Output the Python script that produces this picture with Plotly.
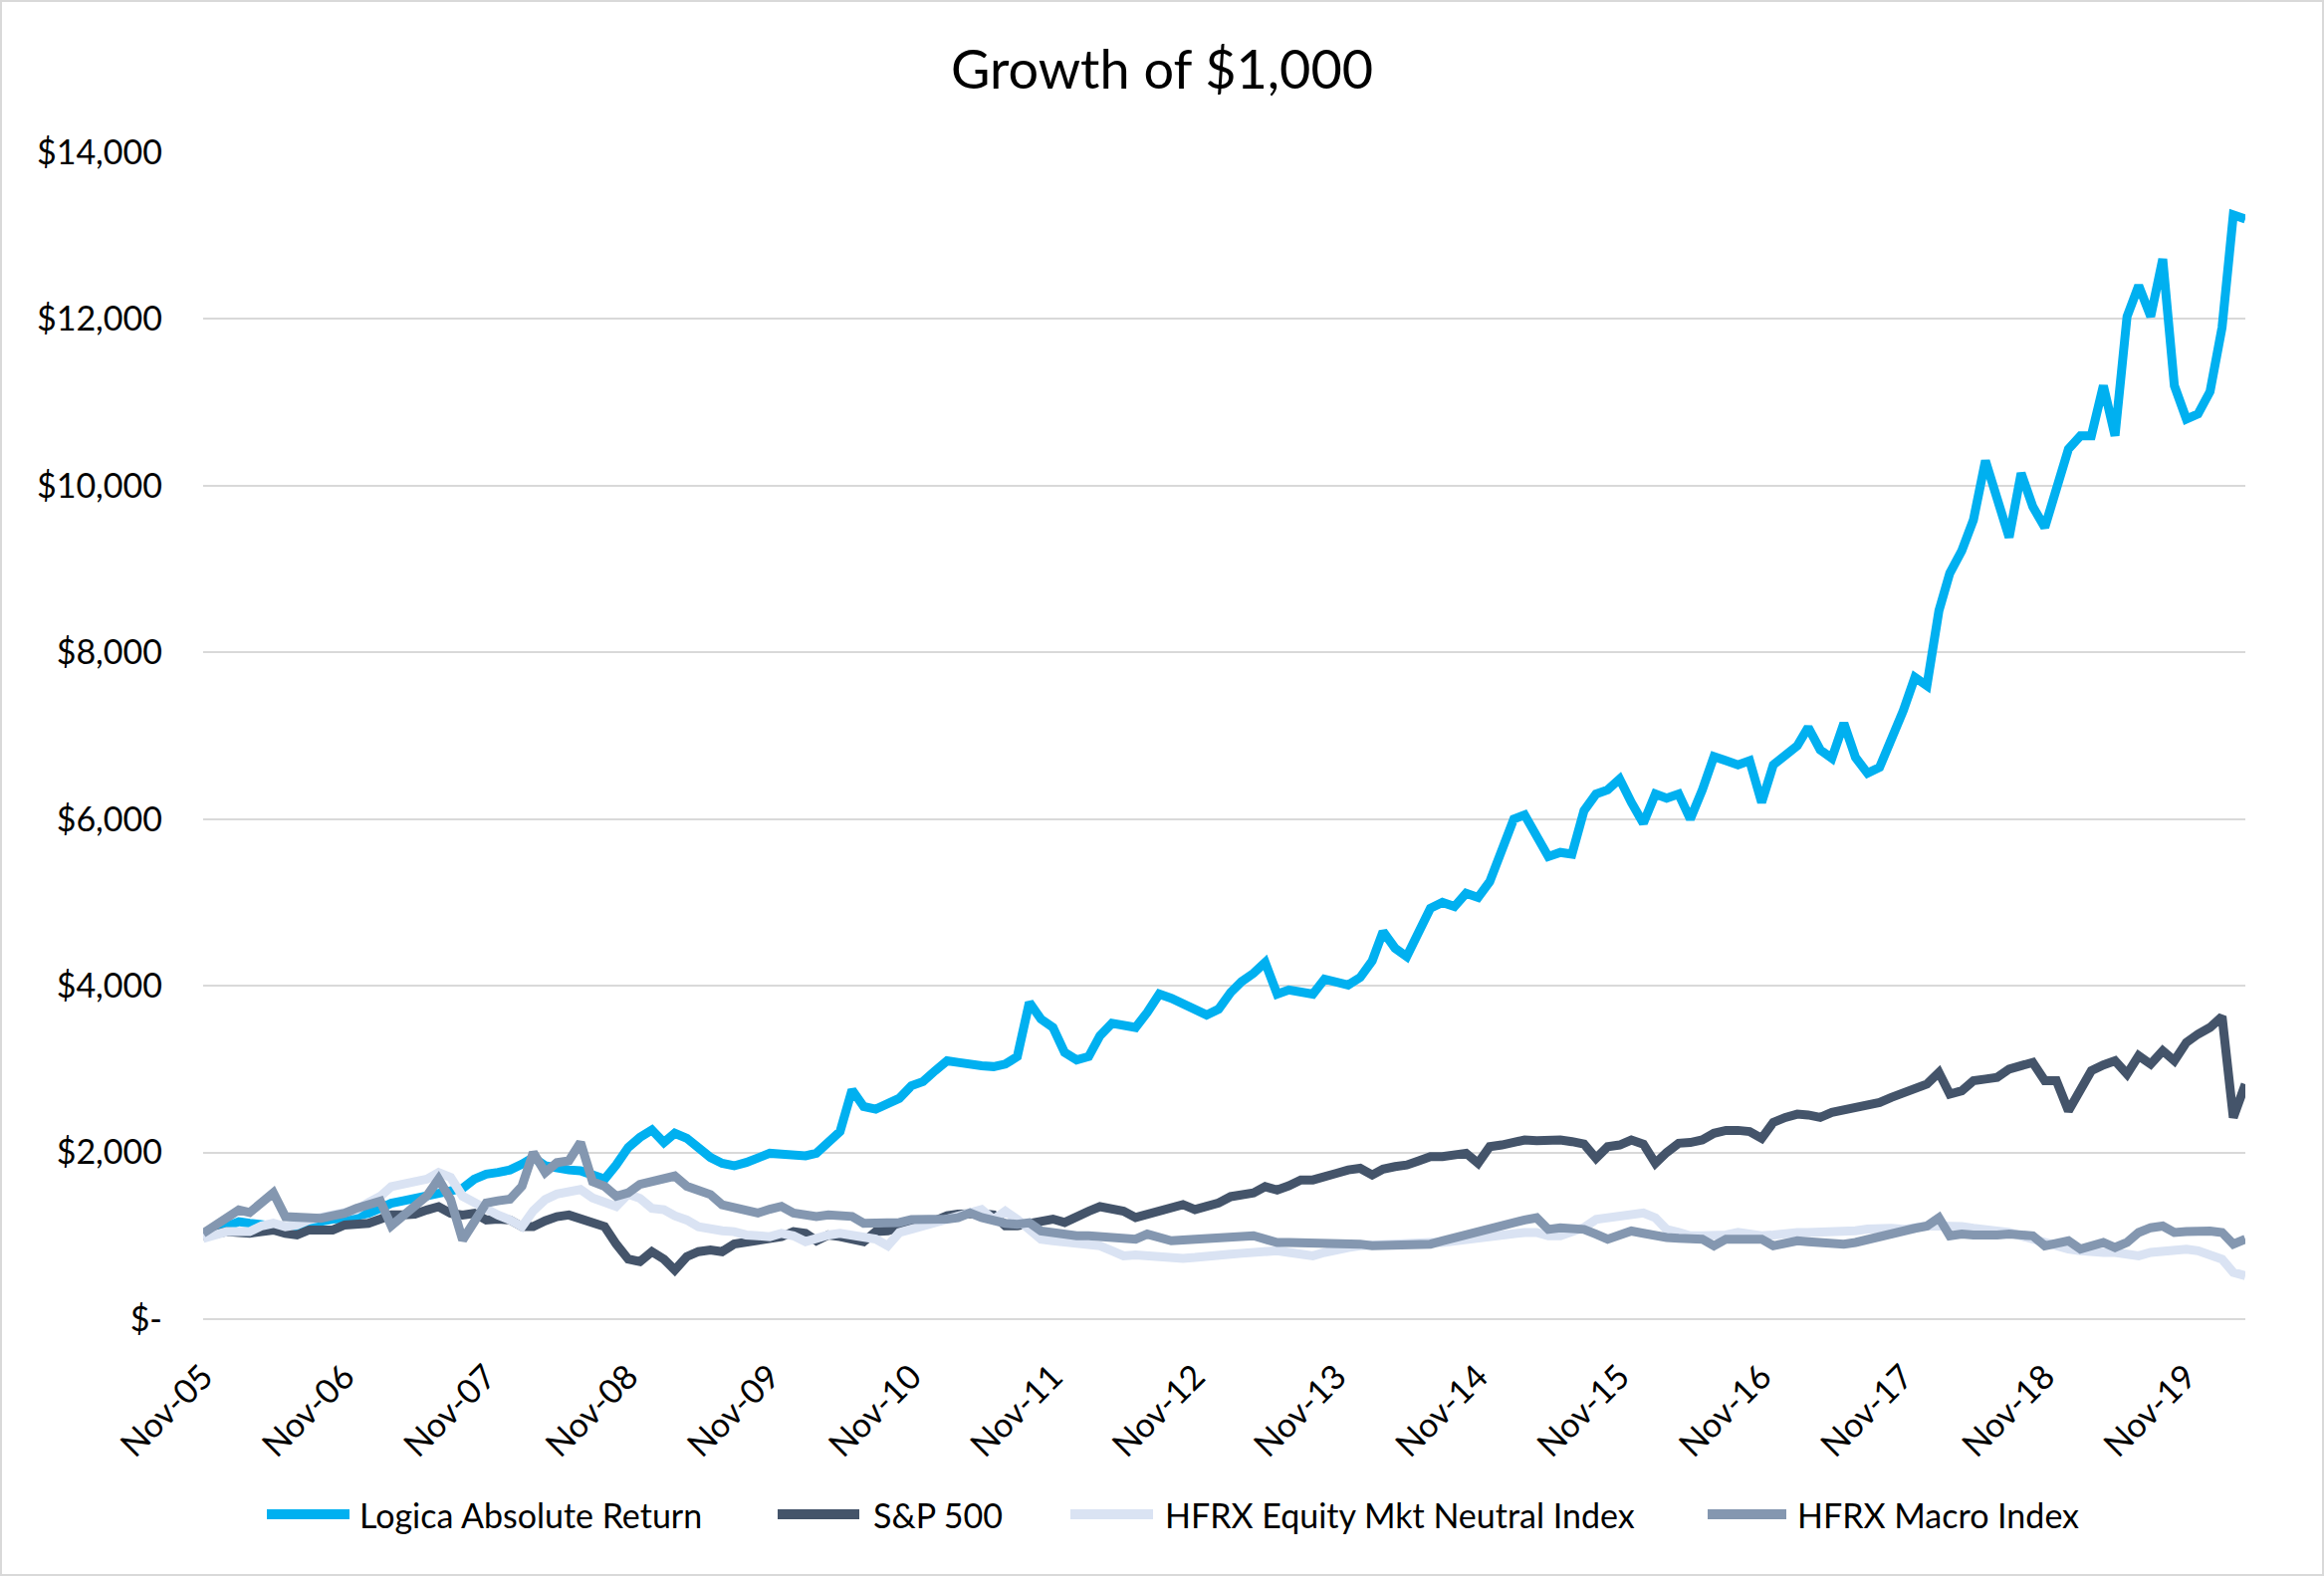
import pandas as pd
import plotly.graph_objects as go

# ---------------- data ----------------
dates = pd.date_range("2005-11-01", "2020-04-01", freq="MS")  # monthly, Nov-05 .. Apr-20

series_names = ["Logica Absolute Return", "S&P 500",
                "HFRX Equity Mkt Neutral Index", "HFRX Macro Index"]

logica = [
    1000, 1050, 1120, 1170, 1150, 1130, 1120, 1100, 1120, 1150, 1180, 1200,
    1210, 1240, 1270, 1330, 1390, 1420, 1450, 1480, 1500, 1540, 1570, 1680,
    1740, 1760, 1790, 1860, 1940, 1840, 1810, 1790, 1780, 1720, 1680, 1850,
    2060, 2180, 2270, 2120, 2230, 2170, 2060, 1940, 1870, 1840, 1880, 1930,
    1990, 1980, 1970, 1960, 1990, 2140, 2250, 2750, 2550, 2520, 2580, 2650,
    2800, 2850, 2980, 3100, 3080, 3050, 3040, 3030, 3060, 3150, 3800, 3600,
    3500, 3200, 3110, 3150, 3400, 3550, 3520, 3500, 3680, 3900, 3850, 3780,
    3720, 3650, 3720, 3920, 4050, 4150, 4280, 3900, 3950, 3930, 3900, 4080,
    4050, 4010, 4100, 4300, 4650, 4450, 4350, 4650, 4930, 5000, 4950, 5110,
    5060, 5250, 5600, 6000, 6050, 5800, 5550, 5600, 5580, 6100, 6300, 6350,
    6480, 6200, 5950, 6300, 6250, 6300, 6000, 6350, 6750, 6700, 6650, 6700,
    6200, 6650, 6780, 6880, 7100, 6830, 6730, 7150, 6740, 6550, 6620, 6950,
    7300, 7700, 7600, 8500, 8950, 9220, 9590, 10300, 9850, 9380, 10150, 9750,
    9500, 10000, 10440, 10600, 10600, 11200, 10600, 12030, 12400, 12030, 12720, 11200,
    10800, 10860, 11130, 11900, 13250, 13200,
]

sp500 = [
    990, 1020, 1050, 1040, 1030, 1050, 1070, 1030, 1010, 1070, 1070, 1070,
    1130, 1150, 1150, 1200, 1250, 1250, 1260, 1310, 1350, 1270, 1250, 1270,
    1190, 1200, 1190, 1110, 1110, 1180, 1230, 1250, 1200, 1150, 1110, 900,
    720, 690, 810, 720, 590, 750, 810, 830, 810, 900, 920, 930,
    960, 990, 1050, 1030, 940, 1010, 990, 970, 930, 1050, 1060, 1100,
    1140, 1160, 1180, 1240, 1260, 1275, 1265, 1250, 1120, 1120, 1150, 1190,
    1200, 1160, 1240, 1295, 1350, 1320, 1295, 1220, 1260, 1315, 1350, 1375,
    1315, 1360, 1395, 1470, 1490, 1515, 1590, 1550, 1600, 1670, 1670, 1700,
    1750, 1790, 1810, 1730, 1800, 1830, 1850, 1900, 1950, 1950, 1960, 1990,
    1870, 2070, 2090, 2120, 2150, 2140, 2150, 2150, 2130, 2100, 1930, 2070,
    2090, 2150, 2100, 1870, 2000, 2110, 2120, 2150, 2230, 2265, 2265, 2250,
    2170, 2360, 2420, 2460, 2450, 2420, 2480, 2510, 2520, 2560, 2600, 2660,
    2720, 2780, 2820, 2960, 2700, 2740, 2860, 2880, 2900, 3000, 3050, 3080,
    2860, 2860, 2500, 2780, 2980, 3050, 3100, 2940, 3160, 3060, 3220, 3100,
    3320, 3420, 3500, 3630, 2420, 2820,
]

hfrx_emn = [
    970, 1010, 1050, 1050, 1050, 1120, 1150, 1110, 1130, 1190, 1220, 1270,
    1280, 1310, 1400, 1475, 1590, 1620, 1655, 1680, 1760, 1700, 1475, 1400,
    1300, 1250, 1190, 1110, 1300, 1435, 1500, 1520, 1555, 1455, 1395, 1353,
    1500, 1450, 1330, 1313, 1240, 1190, 1110, 1080, 1060, 1050, 1010, 1000,
    990, 1030, 1000, 930, 980, 1010, 1030, 1000, 990, 960, 880, 1040,
    1080, 1117, 1150, 1196, 1240, 1275, 1315, 1196, 1295, 1196, 1080, 960,
    940, 920, 910, 900, 880, 820, 760, 770, 760, 740, 720, 730,
    740, 760, 770, 780, 790, 800, 810, 820, 800, 790, 760, 800,
    840, 860, 880, 890, 900, 900, 900, 910, 920, 920, 940, 960,
    980, 1000, 1020, 1030, 1040, 1040, 1000, 1000, 1040, 1100, 1196, 1220,
    1236, 1250, 1275, 1216, 1077, 1040, 1000, 1000, 1000, 1010, 1040, 1020,
    1000, 1010, 1030, 1040, 1040, 1040, 1050, 1057, 1060, 1080, 1097, 1090,
    1077, 1100, 1117, 1117, 1117, 1110, 1090, 1077, 1060, 1040, 1000, 960,
    900, 860, 840, 820, 800, 800, 800, 780, 760, 800, 820, 840,
    840, 820, 780, 720, 560, 520,
]

hfrx_macro = [
    1030, 1120, 1200, 1310, 1280, 1395, 1515, 1230, 1230, 1230, 1210, 1240,
    1270, 1330, 1380, 1415, 1120, 1230, 1350, 1480, 1680, 1435, 950, 1190,
    1395, 1420, 1440, 1595, 2000, 1760, 1878, 1900, 2120, 1650, 1595, 1475,
    1515, 1616, 1650, 1680, 1717, 1595, 1540, 1495, 1373, 1330, 1313, 1273,
    1320, 1353, 1273, 1240, 1232, 1252, 1240, 1232, 1151, 1157, 1137, 1160,
    1196, 1190, 1196, 1200, 1216, 1275, 1220, 1176, 1150, 1137, 1157, 1057,
    1030, 1000, 1000, 1000, 990, 980, 970, 960, 1020, 980, 940, 950,
    960, 960, 970, 980, 990, 1000, 960, 920, 920, 920, 910, 900,
    910, 920, 900, 880, 880, 880, 880, 890, 900, 940, 980, 1000,
    1040, 1077, 1110, 1157, 1190, 1216, 1077, 1097, 1097, 1077, 1020, 960,
    1010, 1057, 1030, 1000, 980, 970, 960, 960, 880, 960, 960, 960,
    960, 880, 920, 940, 930, 920, 910, 900, 920, 960, 980, 1020,
    1057, 1090, 1117, 1216, 1000, 1020, 1010, 1000, 1010, 1020, 1010, 1000,
    880, 920, 940, 840, 880, 920, 860, 920, 1040, 1097, 1117, 1040,
    1050, 1057, 1057, 1040, 900, 960,
]

y_ticks = [0, 2000, 4000, 6000, 8000, 10000, 12000, 14000]
y_tick_labels = ["$-", "$2,000", "$4,000", "$6,000", "$8,000",
                 "$10,000", "$12,000", "$14,000"]

# ---------------- layout constants ----------------
W, H = 2334, 1583
L, R, T, B = 204, 79, 153, 258
PW, PH = W - L - R, H - T - B
FONT = "Lato"
colors = ["#00B0F0", "#44546A", "#DAE3F3", "#8497B0"]


def px_x(px):
    return (px - L) / PW


def px_y(py):
    return (H - B - py) / PH


fig = go.Figure()
for name, vals, col in zip(series_names, [logica, sp500, hfrx_emn, hfrx_macro], colors):
    fig.add_trace(go.Scatter(x=dates, y=vals, mode="lines", name=name,
                             line=dict(color=col, width=9), showlegend=False))

# manual legend (long thick line samples as in the reference)
legend_pos = [(268, 351, 359), (781, 863, 875), (1075, 1158, 1168), (1715, 1794, 1803)]
legend_y = 1521
shapes = []
annotations = []
for (x0, x1, xt), name, col in zip(legend_pos, series_names, colors):
    shapes.append(dict(type="line", xref="paper", yref="paper",
                       x0=px_x(x0), x1=px_x(x1), y0=px_y(legend_y), y1=px_y(legend_y),
                       line=dict(color=col, width=10)))
    annotations.append(dict(text=name, xref="paper", yref="paper",
                            x=px_x(xt), y=px_y(legend_y), xanchor="left", yanchor="middle",
                            showarrow=False, font=dict(family=FONT, size=34, color="#000000")))

# outer chart border
shapes.append(dict(type="rect", xref="paper", yref="paper",
                   x0=px_x(1), x1=px_x(W - 1), y0=px_y(H - 1), y1=px_y(1),
                   line=dict(color="#D9D9D9", width=2), fillcolor="rgba(0,0,0,0)", layer="below"))

fig.update_layout(
    width=W, height=H,
    margin=dict(l=L, r=R, t=T, b=B, autoexpand=False),
    paper_bgcolor="#FFFFFF", plot_bgcolor="#FFFFFF",
    font=dict(family=FONT, color="#000000"),
    title=dict(text="Growth of $1,000", x=0.5, xref="container", xanchor="center",
               y=1 - 70 / H, yref="container", yanchor="middle",
               font=dict(family=FONT, size=54, color="#000000")),
    shapes=shapes, annotations=annotations,
    showlegend=False,
)
fig.update_xaxes(type="date", range=[dates[0], dates[-1]],
                 tick0="2005-11-01", dtick="M12", tickformat="%b-%y",
                 tickangle=-45, ticks="", showgrid=False, zeroline=False,
                 showline=False, ticklabelstandoff=30,
                 tickfont=dict(family=FONT, size=34, color="#000000"))
fig.update_yaxes(range=[0, 14000], tickvals=y_ticks, ticktext=y_tick_labels,
                 showgrid=True, gridcolor="#D9D9D9", gridwidth=2,
                 zeroline=True, zerolinecolor="#D9D9D9", zerolinewidth=2,
                 showline=False, ticks="", ticklabelstandoff=40,
                 tickfont=dict(family=FONT, size=34, color="#000000"))

fig.write_html("out.html",
               config={"displayModeBar": False},
               post_script="document.body.style.margin='0';"
                           "document.body.style.overflow='hidden';")
